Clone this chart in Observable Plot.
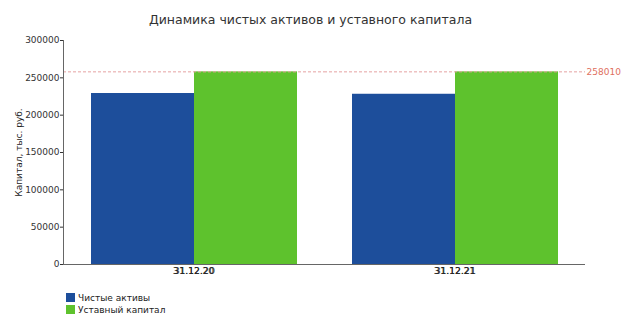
<!DOCTYPE html>
<html>
<head>
<meta charset="utf-8">
<script src="https://cdn.jsdelivr.net/npm/d3@7"></script>
<script src="https://cdn.jsdelivr.net/npm/@observablehq/plot@0.6"></script>
<style>
  html, body { margin: 0; padding: 0; background: #fff; }
  #wrap { position: relative; width: 621px; height: 315px; overflow: hidden; font-family: "DejaVu Sans", sans-serif; }
  #title { position: absolute; top: 12px; left: 0; width: 621px; text-align: center; font-size: 12.5px; color: #333; }
  #chart { position: absolute; top: 0; left: 0; }
  #chart svg text { font-weight: normal; }
  #legend { position: absolute; top: 292px; left: 66px; font-size: 9px; color: #222; line-height: 12px; }
  #legend .sw { display: inline-block; width: 9px; height: 9px; margin-right: 3px; vertical-align: -1px; }
</style>
</head>
<body>
<div id="wrap">
  <div id="chart"></div>
  <div id="title">Динамика чистых активов и уставного капитала</div>
  <div id="legend"></div>
</div>
<script>
const categories = ["31.12.20", "31.12.21"];
const seriesNames = ["Чистые активы", "Уставный капитал"];
const netAssets = [229000, 228000];
const charterCapital = [258010, 258010];
const refValue = 258010;
const yTicks = [0, 50000, 100000, 150000, 200000, 250000, 300000];
const colors = ["#1d4e9b", "#5ec22d"];

const rows = [];
categories.forEach((c, i) => {
  rows.push({date: c, series: seriesNames[0], value: netAssets[i]});
  rows.push({date: c, series: seriesNames[1], value: charterCapital[i]});
});

const chart = Plot.plot({
  width: 621,
  height: 285,
  marginLeft: 62,
  marginRight: 36,
  marginTop: 40,
  marginBottom: 21,
  style: {fontFamily: "DejaVu Sans, sans-serif", fontSize: "9px", color: "#333", background: "transparent"},
  fx: {domain: categories, padding: 0, label: null, axis: "bottom", tickSize: 0, tickPadding: 3},
  x: {domain: seriesNames, paddingInner: 0, paddingOuter: 0.26, axis: null},
  y: {domain: [0, 300000], label: null},
  color: {domain: seriesNames, range: colors},
  marks: [
    Plot.barY(rows, {fx: "date", x: "series", y: "value", fill: "series"}),
    Plot.ruleY([refValue], {stroke: "#e6a3a3", strokeDasharray: "3,2", strokeWidth: 1}),
    Plot.text([{date: categories[1], v: refValue}], {fx: "date", y: "v", text: d => String(d.v), frameAnchor: "right", textAnchor: "start", dx: 1, fill: "#e07060", fontSize: 9}),
    Plot.ruleY([0], {stroke: "#666"}),
    Plot.frame({anchor: "left", facetAnchor: "left", stroke: "#666"}),
    Plot.axisY({ticks: yTicks, tickFormat: d => String(d), tickSize: 3, tickPadding: 1, label: null, fontSize: 9}),
    Plot.text(["Капитал, тыс. руб."], {frameAnchor: "left", facetAnchor: "left", textAnchor: "middle", rotate: -90, dx: -44, fontSize: 9, fill: "#222"}),
    Plot.axisFx({anchor: "bottom", tickSize: 0, tickPadding: 3, label: null, fontSize: 9.5, fill: "#222"})
  ]
});
document.getElementById("chart").appendChild(chart);

const legend = document.getElementById("legend");
seriesNames.forEach((s, i) => {
  const row = document.createElement("div");
  const sw = document.createElement("span");
  sw.className = "sw";
  sw.style.background = colors[i];
  row.appendChild(sw);
  row.appendChild(document.createTextNode(s));
  legend.appendChild(row);
});
</script>
</body>
</html>
